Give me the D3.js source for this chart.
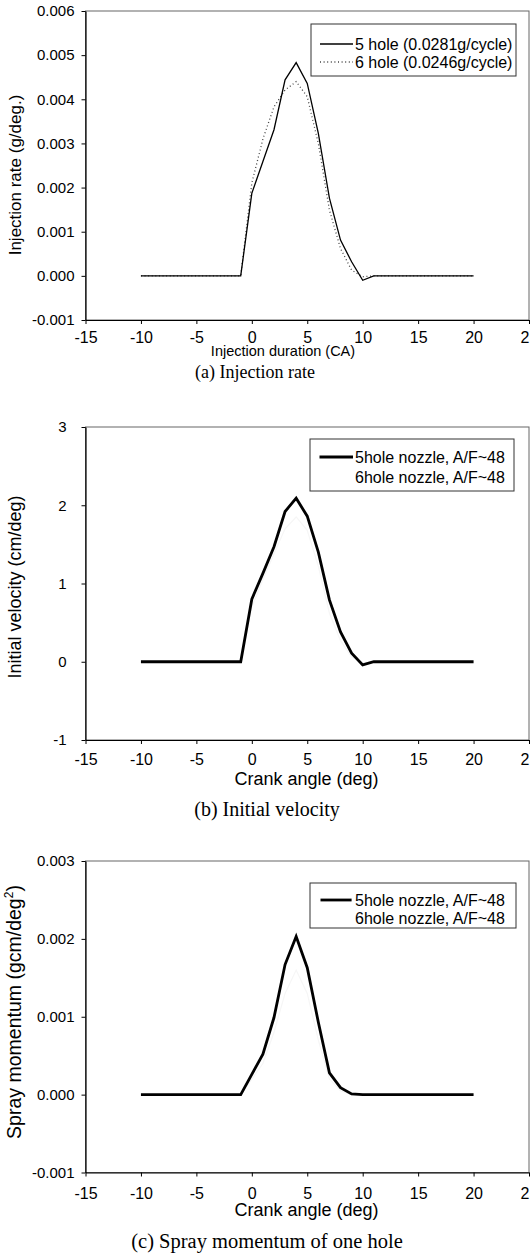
<!DOCTYPE html>
<html><head><meta charset="utf-8">
<script src="https://cdn.jsdelivr.net/npm/d3@7"></script>
<style>
body{margin:0;background:#fff;}
svg{display:block;}
</style></head><body>
<svg id="chart" width="530" height="1256"></svg>
<script>
// ---------- data ----------
const crankAngle = [-10,-9,-8,-7,-6,-5,-4,-3,-2,-1,0,1,2,3,4,5,6,7,8,9,10,11,12,13,14,15,16,17,18,19,20];
const xTicks = [-15,-10,-5,0,5,10,15,20,25];

const rateTicks = [-0.001,0,0.001,0.002,0.003,0.004,0.005,0.006];
const rate5hole = [0,0,0,0,0,0,0,0,0,0, 0.00187,0.00259,0.00331,0.00444,0.00483,0.00436,0.00323,0.00176,0.00081,0.00032,-0.0001, 0,0,0,0,0,0,0,0,0,0];
const rate6hole = [0,0,0,0,0,0,0,0,0,0, 0.0021,0.0031,0.00383,0.00421,0.0044,0.00406,0.0030,0.00149,0.00062,0.00013,-0.00002, 0,0,0,0,0,0,0,0,0,0];

const velTicks = [-1,0,1,2,3];
const vel5hole = [0,0,0,0,0,0,0,0,0,0, 0.80,1.13,1.47,1.92,2.09,1.86,1.40,0.79,0.38,0.11,-0.04, 0,0,0,0,0,0,0,0,0,0];
const vel6hole = [0,0,0,0,0,0,0,0,0,0, 0.70,1.05,1.38,1.70,1.85,1.68,1.22,0.62,0.27,0.06,-0.01, 0,0,0,0,0,0,0,0,0,0];

const momTicks = [-0.001,0,0.001,0.002,0.003];
const mom5hole = [0,0,0,0,0,0,0,0,0,0, 0.00026,0.00052,0.00099,0.00167,0.00203,0.00163,0.00093,0.00028,0.00009,0.00001,0, 0,0,0,0,0,0,0,0,0,0];
const mom6hole = [0,0,0,0,0,0,0,0,0,0, 0.0002,0.0004,0.0008,0.0013,0.0016,0.0013,0.0007,0.0002,0.00005,0,0, 0,0,0,0,0,0,0,0,0,0];

// ---------- drawing ----------
const SANS = "'Liberation Sans', Arial, sans-serif";
const SERIF = "'Liberation Serif', 'Times New Roman', serif";
const L = 85.5, R = 529;
const svg = d3.select("#chart");
svg.append("rect").attr("width",530).attr("height",1256).attr("fill","#fff");

const fmt3 = d => d.toFixed(3);
const fmt0 = d => String(d);

const panels = [
  { top: 11, bottom: 320, yTicks: rateTicks, yFmt: fmt3, yPad: 7,
    yTitle: "Injection rate (g/deg.)", yTitleSize: 17, yTitleY: 175,
    xTitle: "Injection duration (CA)", xTitleSize: 14.5, xTitleX: 283, xTitleY: 356, xTickTop: 12,
    caption: "(a) Injection rate", captionSize: 18, captionX: 255, captionY: 378,
    series: [
      {values: rate5hole, color: "#000", width: 1.3, label: "5 hole (0.0281g/cycle)"},
      {values: rate6hole, color: "#444", width: 1.3, dash: "1,2.6", label: "6 hole (0.0246g/cycle)"}
    ],
    legend: {x: 311, y: 24, w: 205, h: 52, rows: [44, 62], lx1: 320, lx2: 353, tx: 355}
  },
  { top: 427, bottom: 740, yTicks: velTicks, yFmt: fmt0, yPad: 15,
    yTitle: "Initial velocity (cm/deg)", yTitleSize: 18, yTitleY: 587,
    xTitle: "Crank angle (deg)", xTitleSize: 18, xTitleX: 306.5, xTitleY: 785, xTickTop: 14,
    caption: "(b) Initial velocity", captionSize: 20, captionX: 267, captionY: 816,
    series: [
      {values: vel5hole, color: "#000", width: 2.8, label: "5hole nozzle, A/F~48"},
      {values: vel6hole, color: "#f6f6f6", width: 1.2, label: "6hole nozzle, A/F~48", noSample: true}
    ],
    legend: {x: 310, y: 439, w: 204, h: 52, rows: [457, 477], lx1: 319.5, lx2: 353, tx: 355}
  },
  { top: 861, bottom: 1172.5, yTicks: momTicks, yFmt: fmt3, yPad: 7,
    yTitle: "momentum", yTitleSize: 19.5, yTitleY: 1012,
    xTitle: "Crank angle (deg)", xTitleSize: 18, xTitleX: 306.5, xTitleY: 1216, xTickTop: 15,
    caption: "(c) Spray momentum of one hole", captionSize: 20.5, captionX: 267, captionY: 1248,
    series: [
      {values: mom5hole, color: "#000", width: 2.8, label: "5hole nozzle, A/F~48"},
      {values: mom6hole, color: "#f6f6f6", width: 1.2, label: "6hole nozzle, A/F~48", noSample: true}
    ],
    legend: {x: 310, y: 883, w: 206, h: 45, rows: [900, 918], lx1: 320.5, lx2: 351.6, tx: 355}
  }
];

panels.forEach(p => {
  const x = d3.scaleLinear().domain([xTicks[0], xTicks[xTicks.length-1]]).range([L, R]);
  const y = d3.scaleLinear().domain([p.yTicks[0], p.yTicks[p.yTicks.length-1]]).range([p.bottom, p.top]);
  const g = svg.append("g");

  // plot border
  g.append("rect").attr("x", L).attr("y", p.top).attr("width", R - L).attr("height", p.bottom - p.top)
    .attr("fill", "none").attr("stroke", "#666").attr("stroke-width", 1);

  // series (lighter ones first)
  const line = d3.line().x((d, i) => x(crankAngle[i])).y(d => y(d));
  p.series.slice().reverse().forEach(s => {
    g.append("path").datum(s.values).attr("d", line).attr("fill", "none")
      .attr("stroke", s.color).attr("stroke-width", s.width)
      .attr("stroke-dasharray", s.dash || null).attr("stroke-linejoin", "miter");
  });

  // y axis
  const ya = g.append("g").attr("transform", `translate(${L},0)`)
    .call(d3.axisLeft(y).tickValues(p.yTicks).tickFormat(p.yFmt).tickSize(4).tickSizeOuter(0).tickPadding(p.yPad));
  ya.attr("font-family", SANS).attr("font-size", 15);
  ya.selectAll("text").attr("fill", "#000");
  ya.select(".domain").attr("stroke", "#000").attr("stroke-width", 1.2);

  // x axis
  const xa = g.append("g").attr("transform", `translate(0,${p.bottom})`)
    .call(d3.axisBottom(x).tickValues(xTicks).tickFormat(fmt0).tickSize(4).tickSizeOuter(0));
  xa.attr("font-family", SANS).attr("font-size", 16);
  xa.selectAll("text").attr("fill", "#000").attr("y", p.xTickTop).attr("dy", "0.71em");
  xa.select(".domain").attr("stroke", "#000").attr("stroke-width", 1.2);

  // y title
  const yt = g.append("text").attr("transform", `translate(21,${p.yTitleY}) rotate(-90)`)
    .attr("text-anchor", "middle").attr("font-family", SANS).attr("font-size", p.yTitleSize).attr("fill", "#000");
  if (p.yTitle === "momentum") {
    yt.append("tspan").text("Spray momentum (gcm/deg");
    yt.append("tspan").attr("dy", -8).attr("font-size", 12).text("2");
    yt.append("tspan").attr("dy", 8).text(")");
  } else {
    yt.text(p.yTitle);
  }

  // x title
  g.append("text").attr("x", p.xTitleX).attr("y", p.xTitleY).attr("text-anchor", "middle")
    .attr("font-family", SANS).attr("font-size", p.xTitleSize).attr("fill", "#000").text(p.xTitle);

  // caption
  g.append("text").attr("x", p.captionX).attr("y", p.captionY).attr("text-anchor", "middle")
    .attr("font-family", SERIF).attr("font-size", p.captionSize).attr("fill", "#000").text(p.caption);

  // legend
  const lg = p.legend;
  g.append("rect").attr("x", lg.x).attr("y", lg.y).attr("width", lg.w).attr("height", lg.h)
    .attr("fill", "#fff").attr("stroke", "#333").attr("stroke-width", 1);
  p.series.forEach((s, i) => {
    const ry = lg.rows[i];
    if (!s.noSample) {
      g.append("line").attr("x1", lg.lx1).attr("x2", lg.lx2).attr("y1", ry).attr("y2", ry)
        .attr("stroke", s.color).attr("stroke-width", s.width).attr("stroke-dasharray", s.dash || null);
    }
    g.append("text").attr("x", lg.tx).attr("y", ry).attr("dy", "0.35em")
      .attr("font-family", SANS).attr("font-size", 16).attr("fill", "#000").text(s.label);
  });
});
</script>
</body></html>
